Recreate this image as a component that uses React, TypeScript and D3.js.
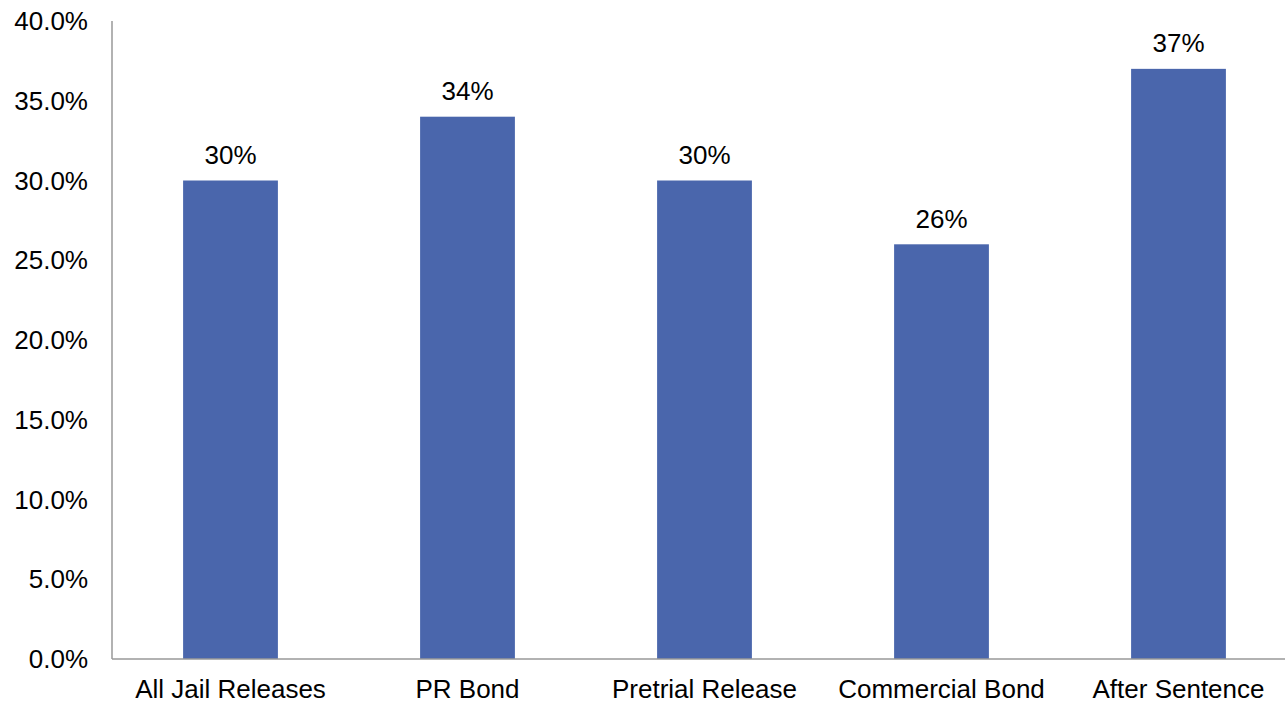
import React from "react";
import * as d3 from "d3";

const categories = ["All Jail Releases", "PR Bond", "Pretrial Release", "Commercial Bond", "After Sentence"];
const values = [0.30, 0.34, 0.30, 0.26, 0.37];
const valueLabels = ["30%", "34%", "30%", "26%", "37%"];
const yTicks = [0, 0.05, 0.1, 0.15, 0.2, 0.25, 0.3, 0.35, 0.4];

export default function App() {
  const W = 1285, H = 704;
  const x0 = 112, y0 = 659, yTop = 21;
  const x = d3.scaleBand<string>().domain(categories).range([x0, 1297]).paddingInner(0.6).paddingOuter(0.3);
  const y = d3.scaleLinear().domain([0, 0.4]).range([y0, yTop]);
  const font = "'Liberation Sans', Arial, sans-serif";
  const fs = 26;
  return (
    <svg width={W} height={H} style={{ position: "absolute", left: 0, top: 0, background: "#fff" }} fontFamily={font}>
      {yTicks.map((t) => (
        <text key={t} x={88} y={y(t)} dy="0.35em" textAnchor="end" fontSize={fs} fill="#000">
          {d3.format(".1%")(t)}
        </text>
      ))}
      {categories.map((c, i) => (
        <g key={c}>
          <rect x={x(c)} y={y(values[i])} width={x.bandwidth()} height={y0 - y(values[i])} fill="#4A66AC" />
          <text x={x(c)! + x.bandwidth() / 2} y={y(values[i]) - 16.5} textAnchor="middle" fontSize={fs} fill="#000">
            {valueLabels[i]}
          </text>
          <text x={x(c)! + x.bandwidth() / 2} y={698} textAnchor="middle" fontSize={fs} fill="#000">
            {c}
          </text>
        </g>
      ))}
      <line x1={x0} x2={W} y1={y0} y2={y0} stroke="#999" strokeWidth={1.5} />
      <line x1={x0} x2={x0} y1={yTop} y2={y0} stroke="#999" strokeWidth={1.5} />
    </svg>
  );
}
